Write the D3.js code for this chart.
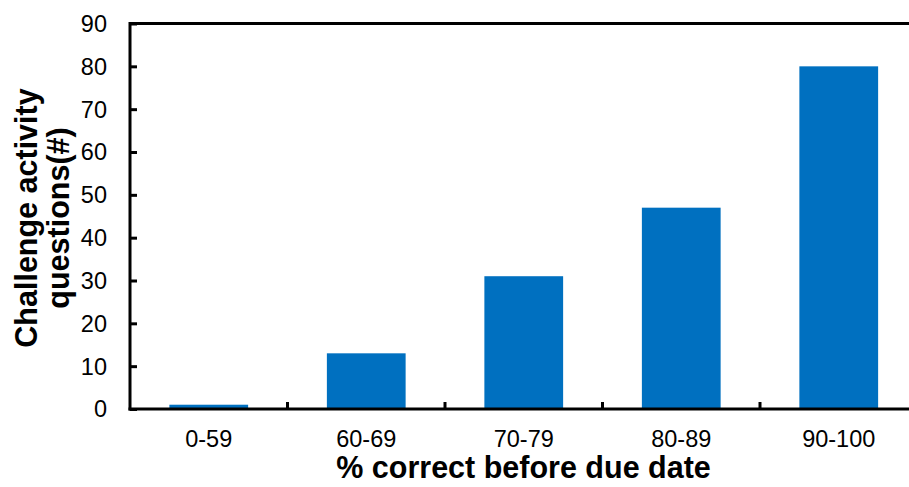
<!DOCTYPE html>
<html>
<meta charset="UTF-8" />
<script src="https://d3js.org/d3.v7.min.js"></script>
<style>
*{margin:0; padding:0;}
body{background:#fff;}
text{font-family:"Liberation Sans", Arial, sans-serif;}
</style>
<body>
<div id="chart"></div>
<script>
var categories = ["0-59", "60-69", "70-79", "80-89", "90-100"];
var counts = [1, 13, 31, 47, 80];
var yTicks = [0, 10, 20, 30, 40, 50, 60, 70, 80, 90];

var W = 909, H = 487;
var plotL = 130, plotT = 23.5, plotB = 409, plotR = 917.5;

var svg = d3.select("#chart").append("svg")
	.attr("width", W)
	.attr("height", H);

var x = d3.scaleBand().domain(categories).range([plotL, plotR]).paddingInner(0).paddingOuter(0);
var y = d3.scaleLinear().domain([0, 90]).range([plotB, plotT]);

// bars
svg.selectAll("rect.bar")
	.data(counts)
	.enter().append("rect")
	.attr("class", "bar")
	.attr("x", function(d, i){ return x(categories[i]) + x.bandwidth()*0.25; })
	.attr("width", x.bandwidth()*0.5)
	.attr("y", function(d){ return y(d); })
	.attr("height", function(d){ return y(0) - y(d); })
	.attr("fill", "#0070c0");

// top frame line
svg.append("line")
	.attr("x1", plotL).attr("x2", W)
	.attr("y1", plotT).attr("y2", plotT)
	.style("stroke", "#000").style("stroke-width", 3);

// y axis
var yAxis = svg.append("g")
	.attr("transform", "translate(" + plotL + ",0)")
	.call(d3.axisRight(y).tickValues(yTicks).tickSize(7).tickFormat(""));
yAxis.select(".domain").style("stroke-width", 3).attr("d", "M0," + (plotB+1.5) + "V" + (plotT-1.5));
yAxis.selectAll(".tick line").style("stroke-width", 3);

svg.selectAll("text.ylab")
	.data(yTicks)
	.enter().append("text")
	.attr("class", "ylab")
	.attr("x", 107)
	.attr("y", function(d){ return y(d); })
	.attr("dy", "0.36em")
	.attr("text-anchor", "end")
	.style("font-size", "23.5px")
	.style("fill", "#000")
	.text(function(d){ return d; });

// x axis
var xBounds = categories.slice(1).map(function(c){ return x(c); });
var xAxis = svg.append("g")
	.attr("transform", "translate(0," + plotB + ")");
xAxis.append("line")
	.attr("x1", plotL - 1.5).attr("x2", W)
	.attr("y1", 0).attr("y2", 0)
	.style("stroke", "#000").style("stroke-width", 3);
xAxis.selectAll("line.tk")
	.data(xBounds)
	.enter().append("line")
	.attr("class", "tk")
	.attr("x1", function(d){ return d; }).attr("x2", function(d){ return d; })
	.attr("y1", 0).attr("y2", -7)
	.style("stroke", "#000").style("stroke-width", 3);

svg.selectAll("text.xlab")
	.data(categories)
	.enter().append("text")
	.attr("class", "xlab")
	.attr("x", function(d){ return x(d) + x.bandwidth()/2; })
	.attr("y", 447)
	.attr("text-anchor", "middle")
	.style("font-size", "23.5px")
	.style("fill", "#000")
	.text(function(d){ return d; });

// titles
svg.append("text")
	.attr("x", 523.5)
	.attr("y", 478)
	.attr("text-anchor", "middle")
	.style("font-size", "30.5px")
	.style("font-weight", "bold")
	.text("% correct before due date");

var yt = svg.append("text")
	.attr("transform", "translate(-3,218) rotate(-90)")
	.attr("text-anchor", "middle")
	.style("font-size", "30.5px")
	.style("font-weight", "bold");
yt.append("tspan").attr("x", 0).attr("y", 40).text("Challenge activity");
yt.append("tspan").attr("x", 0).attr("y", 72).text("questions(#)");
</script>
</body>
</html>
